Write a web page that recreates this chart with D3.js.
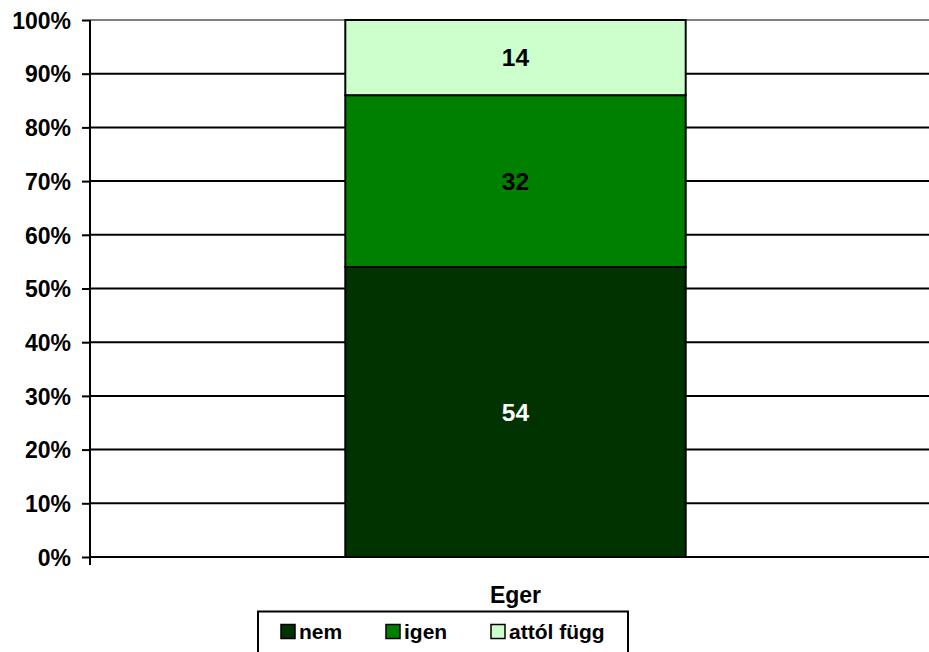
<!DOCTYPE html>
<html><head><meta charset="utf-8">
<script src="https://cdn.jsdelivr.net/npm/d3@7"></script>
<style>body{margin:0;background:#fff;overflow:hidden}svg{display:block}text{font-family:"Liberation Sans",Arial,sans-serif;font-weight:bold}</style>
</head><body><svg id="c" width="929" height="652"></svg>
<script>
const categories = ["Eger"];
const seriesNames = ["nem", "igen", "attól függ"];
const seriesValues = [[54], [32], [14]];
const seriesColors = ["#003300", "#008000", "#CCFFCC"];
const labelColors = ["#ffffff", "#000000", "#000000"];
const yTicks = [0, 10, 20, 30, 40, 50, 60, 70, 80, 90, 100];

const svg = d3.select("#c");
const m = {left: 90, top: 20, right: 941, bottom: 557};
const x = d3.scaleBand().domain(categories).range([m.left, m.right]).paddingInner(0.6).paddingOuter(0.3);
const y = d3.scaleLinear().domain([0, 100]).range([m.bottom, m.top]);

// gridlines
svg.append("g").selectAll("line").data(yTicks.filter(d => d > 0)).join("line")
  .attr("x1", m.left).attr("x2", 929)
  .attr("y1", d => y(d)).attr("y2", d => y(d))
  .attr("stroke", d => d === 100 ? "#808080" : "#000").attr("stroke-width", 2);

// stacked bars
const stackData = categories.map((c, i) => {
  const o = {cat: c};
  seriesNames.forEach((s, j) => o[s] = seriesValues[j][i]);
  return o;
});
const stack = d3.stack().keys(seriesNames)(stackData);
stack.forEach((layer, j) => {
  const g = svg.append("g");
  g.selectAll("rect").data(layer).join("rect")
    .attr("x", d => x(d.data.cat)).attr("width", x.bandwidth())
    .attr("y", d => y(d[1])).attr("height", d => y(d[0]) - y(d[1]))
    .attr("fill", seriesColors[j]).attr("stroke", "#000").attr("stroke-width", 2);
  g.selectAll("text").data(layer).join("text")
    .attr("x", d => x(d.data.cat) + x.bandwidth() / 2)
    .attr("y", d => (y(d[0]) + y(d[1])) / 2)
    .attr("dy", "0.36em").attr("text-anchor", "middle")
    .attr("font-size", 24.5).attr("fill", labelColors[j])
    .text(d => d[1] - d[0]);
});

// y axis
const yAxis = d3.axisLeft(y).tickValues(yTicks).tickFormat(d => d + "%").tickSize(8).tickPadding(11);
const ya = svg.append("g").attr("transform", `translate(${m.left},0)`).call(yAxis);
ya.select(".domain").remove();
ya.append("line").attr("x1", 0).attr("x2", 0).attr("y1", m.top).attr("y2", m.bottom + 8).attr("stroke", "#000").attr("stroke-width", 2);
ya.selectAll(".tick line").attr("stroke", "#000").attr("stroke-width", 2);
ya.selectAll(".tick text").attr("font-size", 23).attr("fill", "#000").attr("dy", "0.36em")
  .style("font-family", '"Liberation Sans",Arial,sans-serif').style("font-weight", "bold");

// x axis line and label
svg.append("line").attr("x1", m.left).attr("x2", 929).attr("y1", m.bottom).attr("y2", m.bottom).attr("stroke", "#000").attr("stroke-width", 2);
svg.selectAll(".cat").data(categories).join("text").attr("class", "cat")
  .attr("x", d => x(d) + x.bandwidth() / 2).attr("y", 603)
  .attr("text-anchor", "middle").attr("font-size", 23).attr("fill", "#000").text(d => d);

// legend
const lg = svg.append("g");
lg.append("rect").attr("x", 258).attr("y", 611.5).attr("width", 370).attr("height", 50)
  .attr("fill", "#fff").attr("stroke", "#000").attr("stroke-width", 2);
const legX = [281, 386, 491];
seriesNames.forEach((s, j) => {
  lg.append("rect").attr("x", legX[j]).attr("y", 624.5).attr("width", 14).attr("height", 14)
    .attr("fill", seriesColors[j]).attr("stroke", "#000").attr("stroke-width", 1.5);
  lg.append("text").attr("x", legX[j] + 18).attr("y", 639).attr("font-size", 21).attr("fill", "#000").text(s);
});
</script></body></html>
